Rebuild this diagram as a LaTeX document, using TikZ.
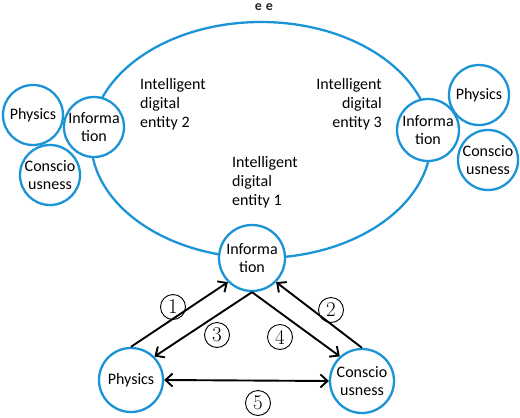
\documentclass[tikz,border=0pt]{standalone}
\usepackage{fontspec}
\setsansfont{Carlito}
\usetikzlibrary{arrows.meta}
\definecolor{cblue}{RGB}{27,148,214}
\begin{document}
\begin{tikzpicture}[x=1pt,y=-1pt,
  bub/.style={circle,draw=cblue,line width=2.3pt,fill=white,minimum size=#1,inner sep=0pt,align=center,
    font=\sffamily\fontsize{16}{18}\selectfont},
  lab/.style={align=#1,inner sep=0pt,font=\sffamily\fontsize{16}{19}\selectfont},
  arr/.style={line width=1.9pt,-{Straight Barb[length=7pt,width=13pt,line width=1.9pt]}},
  darr/.style={line width=1.9pt,{Straight Barb[length=7pt,width=13pt,line width=1.9pt]}-{Straight Barb[length=7pt,width=13pt,line width=1.9pt]}},
  num/.style={circle,draw,line width=0.9pt,minimum size=25pt,inner sep=0pt,font=\rmfamily\fontsize{21}{21}\selectfont}
]
\useasboundingbox (0,0) rectangle (520,418);
% big ellipse
\draw[cblue,line width=2.3pt] (261,140) ellipse [x radius=170, y radius=118];
% top glyphs
\node[font=\sffamily\bfseries\fontsize{14}{14}\selectfont,text=black!85,inner sep=0pt] (ee) at (264,7) {e\hspace{4pt}e};
% entity 2 cluster
\node[bub=60pt] (lP) at (33,115) {Physics};
\node[bub=60pt] (lC) at (50,175) {Conscio\\usness};
\node[bub=60pt] (lI) at (94,127) {Informa\\tion};
% entity 3 cluster
\node[bub=60pt] (rP) at (479,95) {Physics};
\node[bub=60pt] (rC) at (488,160) {Conscio\\usness};
\node[bub=62pt] (rI) at (428,130) {Informa\\tion};
% entity 1 triangle
\node[bub=66pt] (bI) at (252,258) {Informa\\tion};
\node[bub=64pt] (bP) at (131,380) {Physics};
\node[bub=64pt] (bC) at (362,381) {Conscio\\usness};
% labels
\node[lab=left,anchor=west] (t2) at (140,104) {Intelligent\\digital\\entity 2};
\node[lab=right,anchor=east] (t3) at (382,104) {Intelligent\\digital\\entity 3};
\node[lab=left,anchor=west] (t1) at (232,182) {Intelligent\\digital\\entity 1};
% arrows
\draw[arr] (bP.north) -- (bI.225);
\draw[arr] (bC.north) -- (bI.315);
\draw[arr] (bI.south) -- (bP.45);
\draw[arr] (bI.south) -- (bC.132);
\draw[darr] (bP.east) -- (bC.west);
% numbers
\node[num] (n1) at (173,307) {1};
\node[num] (n2) at (331,310) {2};
\node[num] (n3) at (217,335) {3};
\node[num] (n4) at (280,337) {4};
\node[num] (n5) at (258,403) {5};
\end{tikzpicture}
\end{document}
